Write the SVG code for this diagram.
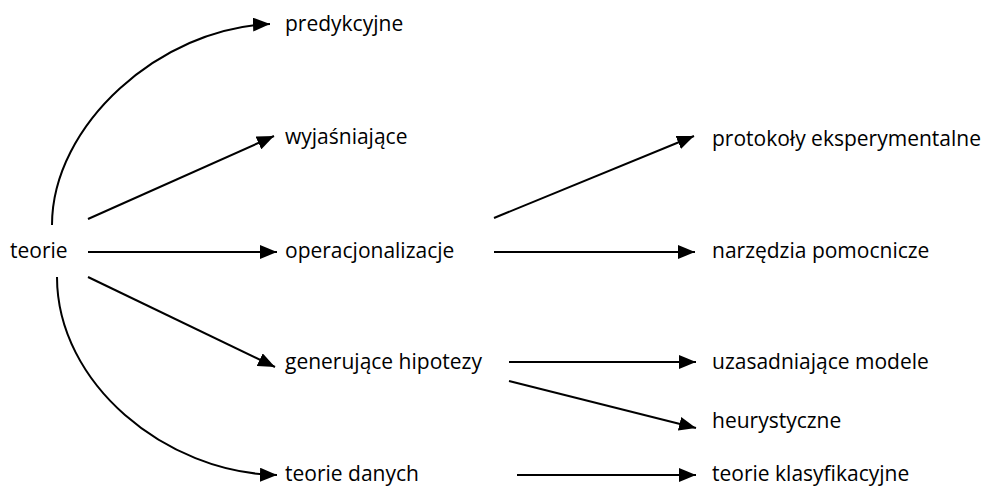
<svg xmlns="http://www.w3.org/2000/svg" width="988" height="487" viewBox="0 0 988 487">
<style>
text{font-family:"Open Sans","Noto Sans","Liberation Sans",sans-serif;font-size:21px;fill:#000}
.c{fill:none;stroke:#000;stroke-width:2}
</style>
<defs>
<marker id="ah" markerUnits="userSpaceOnUse" markerWidth="18" markerHeight="14" refX="17" refY="7" orient="auto">
<path d="M0,0 L17,7 L0,14 Z" fill="#000"/>
</marker>
</defs>
<rect width="988" height="487" fill="#fff"/>
<g id="connectors">
<path class="c" marker-end="url(#ah)" d="M52,225 C52,125 160,28 270,24"/>
<path class="c" marker-end="url(#ah)" d="M88,219 L274,136"/>
<path class="c" marker-end="url(#ah)" d="M88,252 L277,252"/>
<path class="c" marker-end="url(#ah)" d="M88,277 L275,367"/>
<path class="c" marker-end="url(#ah)" d="M57,277 C57,383 165,473 277,475"/>
<path class="c" marker-end="url(#ah)" d="M494,218 L694,136"/>
<path class="c" marker-end="url(#ah)" d="M494,252 L695,252"/>
<path class="c" marker-end="url(#ah)" d="M509,362 L696,362"/>
<path class="c" marker-end="url(#ah)" d="M509,381 L696,428"/>
<path class="c" marker-end="url(#ah)" d="M517,475 L696,475"/>
</g>
<g id="teorie"><text x="10" y="258">teorie</text></g>
<g id="predykcyjne"><text x="285" y="31">predykcyjne</text></g>
<g id="wyjasniajace"><text x="285" y="144">wyjaśniające</text></g>
<g id="operacjonalizacje"><text x="285" y="258">operacjonalizacje</text></g>
<g id="generujace"><text x="285" y="369">generujące hipotezy</text></g>
<g id="teorie-danych"><text x="285" y="481">teorie danych</text></g>
<g id="protokoly"><text x="712" y="146">protokoły eksperymentalne</text></g>
<g id="narzedzia"><text x="712" y="258">narzędzia pomocnicze</text></g>
<g id="uzasadniajace"><text x="712" y="369">uzasadniające modele</text></g>
<g id="heurystyczne"><text x="712" y="428">heurystyczne</text></g>
<g id="klasyfikacyjne"><text x="712" y="481">teorie klasyfikacyjne</text></g>
</svg>
